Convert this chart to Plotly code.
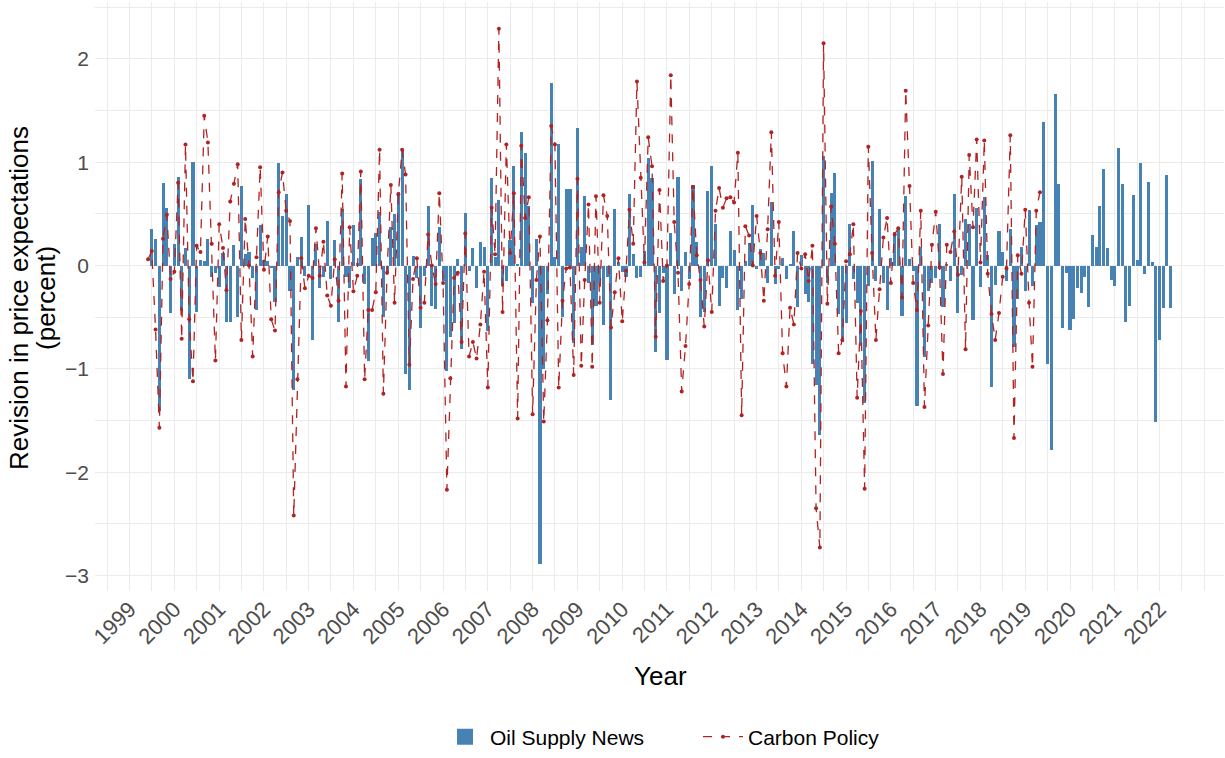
import pandas as pd
import plotly.graph_objects as go

# Monthly oil supply news shocks, starting July 1999
oil_start = "1999-07-01"
oil_supply_news = [
    0.35, 0.26, -1.41, 0.80, 0.56, -0.46,
    0.21, 0.86, -0.44, 0.17, -1.10, 1.00, -0.45, 0.05, 0.04, 0.26, -0.11, -0.07,
    -0.21, 0.12, -0.55, -0.55, 0.20, -0.50, 0.77, 0.11, 0.13, -0.12, -0.43, 0.39,
    0.05, 0.04, -0.02, -0.35, 0.99, 0.48, 0.69, -0.25, -1.20, 0.08, 0.28, -0.10,
    0.59, -0.72, 0.21, -0.22, -0.11, 0.43, -0.13, 0.25, -0.55, 0.55, -0.11, -0.22,
    0.39, 0.02, 0.84, -0.18, -0.92, 0.27, 0.31, 0.52, -0.50, -0.07, 0.37, 0.50,
    0.71, 1.12, -1.05, -1.20, 0.09, -0.12, -0.60, -0.10, 0.58, -0.39, -0.42, 0.37,
    -0.15, -1.02, -0.69, -0.56, 0.06, -0.81, 0.51, -0.05, 0.17, -0.22, 0.23, 0.18,
    -0.63, 0.85, 0.08, 0.63, -0.20, -0.15, 0.25, 0.96, 0.01, 1.29, 1.09, 0.58,
    -0.36, 0.26, -2.89, -1.00, -0.28, 1.77, 0.08, 1.18, -0.50, 0.74, 0.74, -0.75,
    1.33, 0.18, 0.67, -0.17, -0.77, -0.39, -0.17, -0.58, -0.11, -1.30, 0.55, 0.03,
    -0.06, -0.11, 0.69, 0.11, -0.12, -0.11, 0.14, 1.04, 0.85, -0.84, -0.46, -0.07,
    -0.91, 0.31, -0.28, 0.86, -0.25, 0.13, -0.13, 0.78, 0.23, -0.50, -0.45, 0.72,
    0.96, 0.40, -0.39, -0.12, -0.22, 0.33, 0.15, -0.43, -0.32, 0.04, 0.22, 0.59,
    -0.03, 0.16, 0.12, -0.17, 0.61, -0.18, -0.03, 0.07, -0.13, 0.01, 0.33, -0.40,
    0.10, -0.28, -0.35, -0.95, -1.16, -1.64, 1.06, -0.17, 0.70, 0.90, -0.47, -0.74,
    -0.56, 0.40, -0.13, -0.36, -0.78, -1.33, -0.20, 1.01, -0.15, 0.55, -0.17, -0.43,
    0.07, 0.32, 0.36, -0.49, 0.67, 0.06, -0.05, -1.36, 0.18, -0.89, -0.25, -0.17,
    -0.12, 0.40, -0.40, 0.01, -0.15, 0.69, -0.46, -0.09, 0.45, 0.40, -0.53, 0.56,
    -0.21, 0.66, 0.10, -1.18, -0.19, 0.33, 0.13, -0.15, 0.35, -0.79, -0.32, 0.18,
    -0.25, 0.54, -0.20, 0.39, 0.42, 1.39, -0.95, -1.79, 1.66, 0.79, -0.60, -0.07,
    -0.62, -0.52, -0.22, -0.27, -0.11, -0.40, 0.30, 0.18, 0.58, 0.93, 0.17, -0.14,
    -0.20, 1.14, 0.79, -0.55, -0.39, 0.68, 0.05, 0.99, -0.08, 0.81, 0.03, -1.51,
    -0.72, -0.41, 0.88, -0.41,
]

# Monthly carbon policy surprises, starting June 1999
carbon_start = "1999-06-01"
carbon_policy = [
    0.06, 0.14, -0.62, -1.57, 0.26, 0.49, -0.13,
    -0.06, 0.80, -0.71, 1.17, -0.52, -1.12, 0.19, 0.13, 1.45, 1.19, 0.21, -0.92,
    0.40, 0.17, -0.24, 0.62, 0.79, 0.98, -0.72, 0.45, 0.00, -0.88, 0.08, 0.95,
    -0.04, 0.28, -0.52, -0.63, 0.71, 0.90, 0.53, 0.43, -2.42, -1.10, 0.07, -0.22,
    -0.10, -0.12, 0.36, -0.10, 0.23, -0.29, -0.39, 0.06, -0.34, 0.89, -1.17, 0.37,
    -0.25, -0.10, 0.91, -1.10, -0.43, -0.43, -0.26, 1.12, -1.24, -0.07, 0.78, -0.36,
    0.69, 1.12, 0.88, -0.96, -0.13, 0.07, -0.41, -0.36, 0.30, 0.00, -0.18, 0.70,
    -0.17, -2.17, -1.09, -0.12, -0.07, -0.74, 0.31, -0.88, -0.74, -0.90, -0.57, -0.06,
    -1.18, 0.56, 0.11, 2.29, -0.45, 1.17, 0.12, 0.70, -1.48, 1.16, 0.46, 0.66,
    -1.44, -0.14, 0.28, -1.51, -0.53, 1.35, 1.17, -1.18, -0.34, -0.03, -0.02, -1.06,
    0.84, -0.97, -0.14, 0.59, -0.98, 0.67, -0.36, 0.68, 0.48, -0.60, -0.26, 0.07,
    -0.54, -0.05, 0.54, 0.21, 1.78, 0.85, 0.03, 1.24, 0.96, -0.69, 0.73, -0.15,
    0.00, 1.84, 0.42, -0.07, -1.22, -0.78, -0.18, 0.76, 0.10, -0.14, -0.59, 0.05,
    -0.45, 0.53, 0.75, 0.56, 0.65, 0.66, 0.61, 1.09, -1.45, 0.38, 0.29, 0.00,
    0.48, 0.12, -0.34, 0.35, 1.29, -0.10, 0.42, -0.85, -1.17, -0.41, -0.57, 0.12,
    -0.03, 0.11, -0.15, 0.19, -2.35, -2.73, 2.15, -0.37, 0.57, 0.21, -0.85, -0.72,
    0.04, 0.11, 0.40, -1.28, -0.44, -2.16, 1.15, 0.12, -0.72, -0.23, 0.27, 0.46,
    -0.17, 0.30, 0.36, -0.31, 1.69, 0.77, -0.17, -0.43, 0.53, -1.37, -0.58, 0.20,
    0.52, -0.02, -1.05, 0.20, 0.13, 0.33, -0.09, 0.86, -0.81, 1.07, 0.37, 1.22,
    0.03, 1.21, -0.08, -0.47, -0.72, -0.46, -0.11, -0.03, 1.26, -1.67, 0.10, -0.08,
    0.54, -0.36, -0.98, 0.53, 0.71,
]

# Axis tick labels
year_ticks = list(range(1999, 2023))
y_ticks = [-3, -2, -1, 0, 1, 2]

oil_dates = pd.date_range(oil_start, periods=len(oil_supply_news), freq="MS")
carbon_dates = pd.date_range(carbon_start, periods=len(carbon_policy), freq="MS")

STEEL = "#4682B4"
FIRE = "#B22222"
GRID = "#EBEBEB"
TICK_COL = "#4D4D4D"
FONT = "Liberation Sans, Arial, sans-serif"

bar_width_ms = 0.9 * 28 * 24 * 3600 * 1000

fig = go.Figure()
fig.add_trace(go.Bar(
    x=oil_dates, y=oil_supply_news, width=bar_width_ms,
    marker=dict(color=STEEL, line=dict(width=0)),
    name="Oil Supply News", showlegend=False,
))
# legend key for the bars: a filled square
fig.add_trace(go.Scatter(
    x=[None], y=[None], mode="markers",
    marker=dict(symbol="square", size=16, color=STEEL),
    name="Oil Supply News",
))
fig.add_trace(go.Scatter(
    x=carbon_dates, y=carbon_policy, mode="lines+markers",
    line=dict(color=FIRE, dash="dash", width=1.3),
    marker=dict(color=FIRE, size=4),
    name="Carbon Policy",
))

W, H = 1225, 758
L, R, T, B = 95, 1, 2, 163
pw, ph = W - L - R, H - T - B


def px_x(px):
    return (px - L) / pw


def px_y(py):
    return (T + ph - py) / ph


fig.update_layout(
    width=W, height=H,
    margin=dict(l=L, r=R, t=T, b=B),
    paper_bgcolor="white", plot_bgcolor="white",
    font=dict(family=FONT, color="black"),
    bargap=0,
    showlegend=True,
    legend=dict(
        orientation="h", x=px_x(440), xanchor="left",
        y=px_y(742), yanchor="middle",
        font=dict(size=21, color="black"),
        itemwidth=40, traceorder="normal",
        entrywidth=203, entrywidthmode="pixels",
        itemsizing="trace",
    ),
)

fig.update_xaxes(
    type="date",
    range=["1998-03-25", "2023-06-10"],
    tickvals=[pd.Timestamp(f"{y}-01-01") for y in year_ticks],
    ticktext=[str(y) for y in year_ticks],
    tickangle=-45,
    tickfont=dict(size=22, color=TICK_COL, family=FONT),
    showgrid=True, gridcolor=GRID, gridwidth=1.4,
    minor=dict(dtick="M6", tick0="1999-01-01", showgrid=True,
               gridcolor=GRID, gridwidth=0.7),
    zeroline=False, showline=False, ticks="",
)
fig.update_yaxes(
    range=[-3.15, 2.55],
    tickvals=y_ticks,
    tickfont=dict(size=21, color=TICK_COL, family=FONT),
    ticklabelstandoff=5,
    showgrid=True, gridcolor=GRID, gridwidth=1.4,
    minor=dict(dtick=0.5, tick0=0, showgrid=True,
               gridcolor=GRID, gridwidth=0.7),
    zeroline=False, showline=False, ticks="",
)

fig.add_annotation(
    text="Revision in price expectations", textangle=-90,
    xref="paper", yref="paper", x=px_x(19), y=px_y(300),
    xanchor="center", yanchor="middle", showarrow=False,
    font=dict(size=26, color="black", family=FONT),
)
fig.add_annotation(
    text="(percent)", textangle=-90,
    xref="paper", yref="paper", x=px_x(46), y=px_y(300),
    xanchor="center", yanchor="middle", showarrow=False,
    font=dict(size=26, color="black", family=FONT),
)
fig.add_annotation(
    text="Year",
    xref="paper", yref="paper", x=px_x(660), y=px_y(681),
    xanchor="center", yanchor="middle", showarrow=False,
    font=dict(size=26, color="black", family=FONT),
)

fig.write_html("out.html")
